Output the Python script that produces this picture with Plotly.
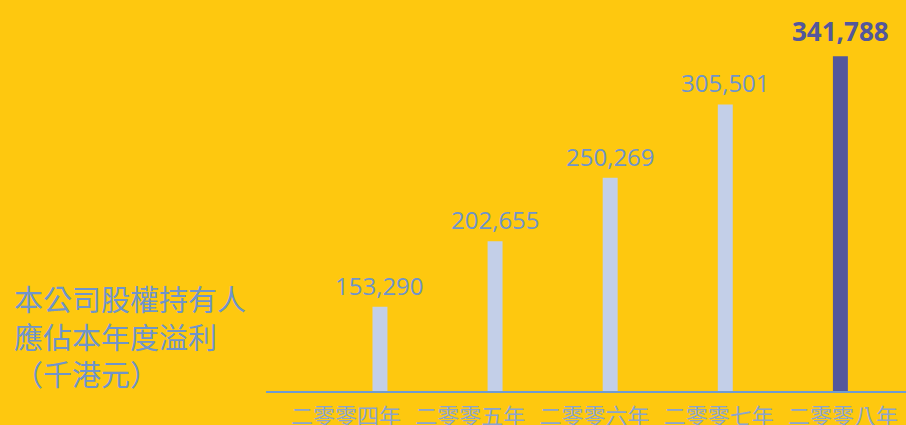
import plotly.graph_objects as go

years = ["二零零四年", "二零零五年", "二零零六年", "二零零七年", "二零零八年"]
profits = [153290, 202655, 250269, 305501, 341788]
value_labels = ["153,290", "202,655", "250,269", "305,501", "341,788"]
title_lines = ["本公司股權持有人", "應佔本年度溢利", "（千港元）"]

BG = "#FEC80F"
LIGHT_BAR = "#C3CFE8"
DARK_BAR = "#53579C"
LABEL = "#6F94CC"
TICK = "#8AA4CF"
AXIS = "#6F9BD2"

idx = list(range(len(years)))
colors = [LIGHT_BAR] * (len(years) - 1) + [DARK_BAR]

fig = go.Figure()
fig.add_trace(go.Bar(
    x=idx, y=profits, marker=dict(color=colors, line=dict(width=0)),
    width=0.13, showlegend=False, hoverinfo="skip",
))
fig.add_trace(go.Scatter(x=[], y=[], xaxis="x2", showlegend=False))

for i, (v, t) in enumerate(zip(profits, value_labels)):
    last = i == len(profits) - 1
    fig.add_annotation(
        x=i, y=v, xref="x", yref="y", text=f"<b>{t}</b>" if last else t,
        showarrow=False, yanchor="bottom", xanchor="center",
        yshift=5 if last else 3,
        font=dict(family="Open Sans", size=26 if last else 24,
                  weight=700 if last else 500,
                  color=DARK_BAR if last else LABEL),
    )

fig.add_annotation(
    xref="paper", yref="paper", x=-0.397, y=0.297,
    xanchor="left", yanchor="top", align="left", showarrow=False,
    text="<br>".join(title_lines),
    font=dict(family="Noto Sans CJK TC", size=29, color=LABEL),
)

fig.update_layout(
    width=906, height=425,
    margin=dict(l=266, r=0, t=0, b=34, autoexpand=False),
    paper_bgcolor=BG, plot_bgcolor=BG,
    xaxis=dict(type="linear", range=[-0.99, 4.57], showline=True, linecolor=AXIS,
               linewidth=2, showticklabels=False, ticks="", showgrid=False,
               zeroline=False, automargin=False),
    xaxis2=dict(type="linear", overlaying="x", anchor="y", side="bottom",
                range=[-0.644, 4.507], tickvals=idx, ticktext=years,
                ticks="outside", ticklen=6, tickcolor="rgba(0,0,0,0)",
                showgrid=False, zeroline=False, showline=False, automargin=False,
                tickfont=dict(family="Noto Sans CJK TC", size=22, color=TICK)),
    yaxis=dict(range=[90000, 384000], showticklabels=False, showgrid=False,
               zeroline=False, showline=False, automargin=False),
)

fig.write_html("out.html")
